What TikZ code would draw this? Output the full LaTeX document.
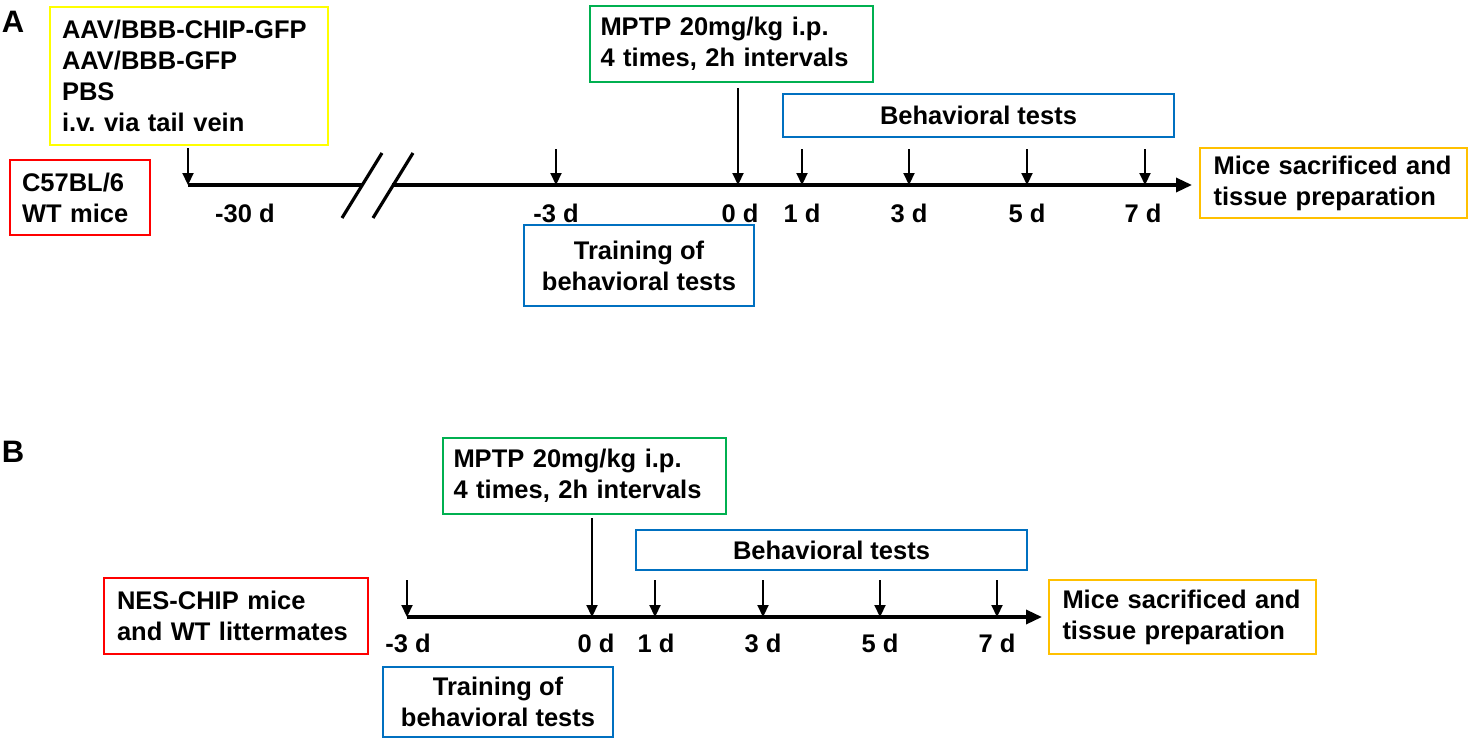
\documentclass[tikz,border=0pt]{standalone}
\usepackage{fontspec}
\setmainfont{Liberation Sans}
\usetikzlibrary{arrows.meta}
\definecolor{cyel}{RGB}{255,255,0}
\definecolor{cred}{RGB}{255,0,0}
\definecolor{cgrn}{RGB}{0,176,80}
\definecolor{cblu}{RGB}{0,112,192}
\definecolor{corg}{RGB}{255,192,0}
\begin{document}
\begin{tikzpicture}[x=0.5pt,y=-0.5pt,
  every node/.style={font=\fontsize{12.75}{15.5}\selectfont\bfseries},
  box/.style={draw, line width=1pt, inner sep=0pt, outer sep=0pt},
  lbox/.style={box, align=left},
  cbox/.style={box, align=center},
  panel/.style={font=\fontsize{15.5}{18}\selectfont\bfseries},
  day/.style={inner sep=0pt},
  tick/.style={line width=1.1pt, -{Triangle[length=6pt,width=5.5pt]}},
  axis/.style={line width=1.7pt},
  axisarrow/.style={line width=1.7pt, -{Triangle[length=8pt,width=7pt]}}]
\useasboundingbox (0,0) rectangle (1469,739);

% ---------------- Panel A ----------------
\node[panel] (pA) at (13,22) {A};
\node[lbox, draw=cyel, minimum width=139pt, minimum height=69pt, text width=127pt] (inj) at (189,76)
  {AAV/BBB-CHIP-GFP\\AAV/BBB-GFP\\PBS\\i.v.\ via tail vein};
\node[lbox, draw=cred, minimum width=70pt, minimum height=37.5pt, text width=58pt] (miceA) at (80,197.5)
  {C57BL/6\\WT mice};
\node[lbox, draw=cgrn, minimum width=141.5pt, minimum height=38pt, text width=131pt] (mptpA) at (731.5,44)
  {MPTP 20mg/kg i.p.\\4 times, 2h intervals};
\node[cbox, draw=cblu, minimum width=195.5pt, minimum height=21.5pt] (behA) at (978.5,115.5)
  {Behavioral tests};
\node[cbox, draw=cblu, minimum width=115pt, minimum height=40.5pt] (trainA) at (639,265.5)
  {Training of\\behavioral tests};
\node[lbox, draw=corg, minimum width=133.5pt, minimum height=35pt, text width=120pt] (sacA) at (1333.5,183)
  {Mice sacrificed and\\tissue preparation};

\coordinate (a30) at (188,185);
\coordinate (brk1) at (362,185);
\coordinate (brk2) at (392,185);
\coordinate (a3) at (556,185);
\coordinate (a0) at (738,185);
\coordinate (a1) at (802,185);
\coordinate (a3p) at (909,185);
\coordinate (a5) at (1027,185);
\coordinate (a7) at (1145,185);
\coordinate (aend) at (1192,185);

\draw[axis] (a30) -- (brk1);
\draw[axisarrow] (brk2) -- (aend);
\draw[line width=1.6pt] (342,218) -- (382,153);
\draw[line width=1.6pt] (373,218) -- (413,153);

\draw[tick] (a30) ++(0,-37) -- (a30);
\draw[tick] (a3) ++(0,-36) -- (a3);
\draw[tick] (mptpA.south -| a0) ++(0,6) -- (a0);
\draw[tick] (a1) ++(0,-36) -- (a1);
\draw[tick] (a3p) ++(0,-36) -- (a3p);
\draw[tick] (a5) ++(0,-36) -- (a5);
\draw[tick] (a7) ++(0,-36) -- (a7);

\node[day] (la30) at (245,213) {-30 d};
\node[day] (la3) at (556,213) {-3 d};
\node[day] (la0) at (740,213) {0 d};
\node[day] (la1) at (802,213) {1 d};
\node[day] (la3p) at (909,213) {3 d};
\node[day] (la5) at (1027,213) {5 d};
\node[day] (la7) at (1143,213) {7 d};

% ---------------- Panel B ----------------
\node[panel] (pB) at (13,452) {B};
\node[lbox, draw=cgrn, minimum width=141.5pt, minimum height=38pt, text width=131pt] (mptpB) at (584.5,476)
  {MPTP 20mg/kg i.p.\\4 times, 2h intervals};
\node[lbox, draw=cred, minimum width=132pt, minimum height=38pt, text width=119pt] (miceB) at (236,616)
  {NES-CHIP mice\\and WT littermates};
\node[cbox, draw=cblu, minimum width=195.5pt, minimum height=20pt] (behB) at (831.5,550)
  {Behavioral tests};
\node[lbox, draw=corg, minimum width=133.5pt, minimum height=37pt, text width=120pt] (sacB) at (1182.5,617)
  {Mice sacrificed and\\tissue preparation};
\node[cbox, draw=cblu, minimum width=115pt, minimum height=35pt] (trainB) at (498,702)
  {Training of\\behavioral tests};

\coordinate (b3) at (407,617);
\coordinate (b0) at (592,617);
\coordinate (b1) at (655,617);
\coordinate (b3p) at (763,617);
\coordinate (b5) at (880,617);
\coordinate (b7) at (997,617);
\coordinate (bend) at (1042,617);

\draw[axisarrow] (b3) -- (bend);
\draw[tick] (b3) ++(0,-37) -- (b3);
\draw[tick] (mptpB.south -| b0) ++(0,4) -- (b0);
\draw[tick] (b1) ++(0,-37) -- (b1);
\draw[tick] (b3p) ++(0,-37) -- (b3p);
\draw[tick] (b5) ++(0,-37) -- (b5);
\draw[tick] (b7) ++(0,-37) -- (b7);

\node[day] (lb3) at (408,643) {-3 d};
\node[day] (lb0) at (596,643) {0 d};
\node[day] (lb1) at (656,643) {1 d};
\node[day] (lb3p) at (763,643) {3 d};
\node[day] (lb5) at (880,643) {5 d};
\node[day] (lb7) at (997,643) {7 d};
\end{tikzpicture}
\end{document}
